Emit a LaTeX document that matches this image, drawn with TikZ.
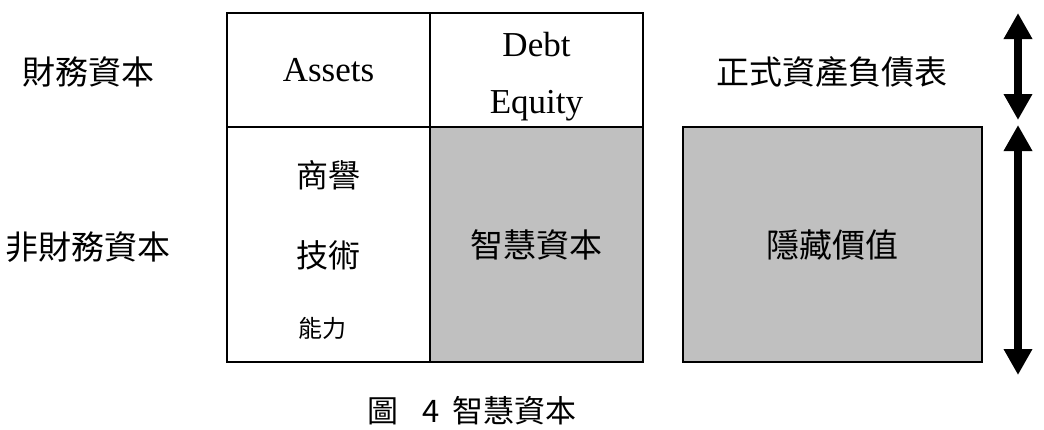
\documentclass[tikz,border=0pt]{standalone}
\usepackage{fontspec}
\setmainfont{Liberation Serif}
\newfontfamily\cjk{Noto Sans CJK TC}
\usepackage{xcolor}
\usetikzlibrary{arrows.meta}
\definecolor{cellgray}{RGB}{192,192,192}

\begin{document}
\begin{tikzpicture}[
  x=1pt,y=-1pt,  cell/.style={draw,line width=2pt,inner sep=0pt,minimum height=114pt,font=\fontsize{35}{57}\selectfont,align=center},  scell/.style={draw,line width=2pt,fill=cellgray,inner sep=0pt,minimum height=235pt,font=\cjk\fontsize{33}{40}\selectfont},  txt/.style={inner sep=0pt,font=\cjk\fontsize{33}{40}\selectfont},  dblarrow/.style={line width=8pt,{Triangle[width=27pt,length=26pt]}-{Triangle[width=27pt,length=26pt]}}
]
  \useasboundingbox (0,0) rectangle (1044,429);
  \node[cell,minimum width=203pt] (assets) at (328.5,70) {Assets};
  \node[cell,minimum width=213pt] (debt) at (536.5,70) {\rule{0pt}{38pt}Debt\\Equity};
  \node[cell,minimum width=203pt,minimum height=235pt] (nonfinbox) at (328.5,244.5) {};
  \node[scell,minimum width=213pt] (ic) at (536.5,244.5) {智慧資本};
  \node[scell,minimum width=299pt] (hidden) at (832.5,244.5) {隱藏價值};
  \node[txt] (fin) at (89,72) {財務資本};
  \node[txt] (nonfin) at (88,247) {非財務資本};
  \node[txt] (bs) at (832,72) {正式資產負債表};
  \node[txt,font=\cjk\fontsize{32}{40}\selectfont] (gw) at (328.5,175) {商譽};
  \node[txt,font=\cjk\fontsize{32}{40}\selectfont] (tech) at (328.5,255) {技術};
  \node[txt,font=\cjk\fontsize{24}{30}\selectfont] (abil) at (322,328) {能力};
  \node[txt,font=\cjk\fontsize{31}{38}\selectfont] (cap) at (472,411) {圖\hspace{24pt}4\hspace{12pt}智慧資本};
  \coordinate (t1) at (1018,13);
  \coordinate (t2) at (1018,120);
  \coordinate (t3) at (1018,125);
  \coordinate (t4) at (1018,375);
  \draw[dblarrow] (t1) -- (t2);
  \draw[dblarrow] (t3) -- (t4);
\end{tikzpicture}
\end{document}
